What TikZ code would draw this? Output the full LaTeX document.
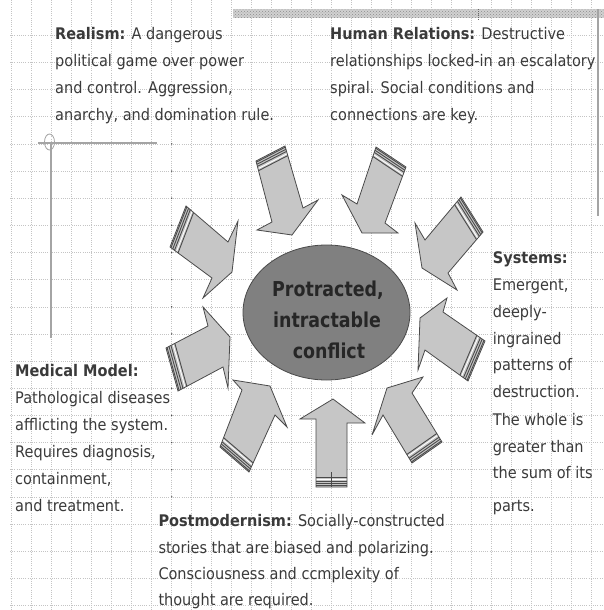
\documentclass[tikz,border=0pt]{standalone}
\usepackage{fontspec}
\setmainfont{DejaVu Sans}
\newfontfamily\bodyfont[FakeStretch=0.906]{DejaVu Sans}
\newfontfamily\corefont[FakeStretch=0.85]{DejaVu Sans}
\usetikzlibrary{calc,shapes.geometric,patterns}

\definecolor{gridgray}{HTML}{C4C4C4}
\definecolor{arrowfill}{HTML}{C6C6C6}
\definecolor{arrowedge}{HTML}{4A4A4A}
\definecolor{corefill}{HTML}{808080}
\definecolor{coreedge}{HTML}{4A4A4A}
\definecolor{inkgray}{HTML}{3A3A3A}
\definecolor{markgray}{HTML}{A4A4A4}

\tikzset{
  gridline/.style={gridgray, line width=0.6pt, dash pattern=on 0.7pt off 1.5pt},
  arrowbody/.style={fill=arrowfill},
  arrowoutline/.style={draw=arrowedge, line width=0.8pt, line join=miter},
  stripedark/.style={arrowedge, line width=0.9pt},
  stripelight/.style={white, line width=0.9pt},
  bodytext/.style={anchor=base west, inner sep=0pt, text=inkgray,
    font=\bodyfont\fontsize{16}{19}\selectfont},
  coretext/.style={anchor=base, inner sep=0pt, text=black!85,
    font=\corefont\bfseries\fontsize{20.5}{24}\selectfont},
  markline/.style={markgray, line width=1.5pt},
}

% Block arrow with a striped tail:
% #1 tail corner, #2 shaft end, #3 barb, #4 tip, #5 barb, #6 shaft end, #7 tail corner
\newcommand\stripedarrow[7]{%
  \path[arrowbody] #1 -- #2 -- #3 -- #4 -- #5 -- #6 -- #7 -- cycle;
  \foreach \off/\sty in {1.2/stripedark, 3.4/stripedark, 5.6/stripedark,
                         8/stripelight, 10/stripedark}
    {\draw[\sty] ($#1!\off pt!#2$) -- ($#7!\off pt!#6$);}
  \draw[arrowoutline] #1 -- #2 -- #3 -- #4 -- #5 -- #6 -- #7 -- cycle;
}

\begin{document}
\begin{tikzpicture}[x=1pt, y=-1pt]
\useasboundingbox (0,0) rectangle (604,610);
\fill[white] (0,0) rectangle (604,610);

% dotted layout grid
\foreach \k in {0,...,29}
  \draw[gridline] ({11.7+20*\k},0) -- ({11.7+20*\k},610);
\foreach \k in {0,...,21}
  \draw[gridline] (10,{35.3+27.15*\k}) -- (604,{35.3+27.15*\k});
\foreach \k in {0,...,21}
  \fill[black!70] (171.7,{35.3+27.15*\k}) circle (0.8);

% page furniture
\fill[black!18] (233,9.5) rectangle (604,18);
\fill[pattern=crosshatch dots, pattern color=black!45] (233,9.5) rectangle (604,18);
\draw[black!60, dash pattern=on 1pt off 1pt, line width=0.8pt] (478,9.5) -- (478,20);
\draw[markgray, line width=1.4pt] (598,9.5) -- (598,216);
\draw[markline] (38,143) -- (157,143);
\draw[markline] (51,143) -- (51,338);
\draw[markgray, line width=0.8pt] (49.5,142) ellipse [x radius=5, y radius=8];

% arrows converging on the core
\stripedarrow{(256,161)}{(272,222)}{(257,230)}{(292,235)}{(318,200)}{(303,208)}{(285,146)}
\stripedarrow{(376,147)}{(357,204)}{(342,195)}{(362,233)}{(398,233)}{(385,223)}{(406,167)}
\stripedarrow{(186,206)}{(228,242)}{(238,221)}{(232,272)}{(203,298)}{(212,278)}{(170,247)}
\stripedarrow{(461,197)}{(425,240)}{(415,223)}{(422,268)}{(457,290)}{(448,273)}{(483,232)}
\stripedarrow{(166,348)}{(208,326)}{(203,307)}{(230,337)}{(228,388)}{(223,367)}{(178,391)}
\stripedarrow{(220,447)}{(242,390)}{(233,380)}{(270,386)}{(287,427)}{(275,415)}{(249,472)}
\stripedarrow{(316,487)}{(316,419)}{(300,419)}{(333,399)}{(365,423)}{(347,423)}{(347,487)}
\stripedarrow{(412,463)}{(383,415)}{(372,435)}{(387,388)}{(423,377)}{(412,393)}{(442,442)}
\stripedarrow{(468,381)}{(425,350)}{(418,370)}{(420,318)}{(447,298)}{(443,312)}{(485,341)}
\draw[arrowedge, line width=0.8pt] (331.5,472) -- (331.5,487);

% core
\node[ellipse, draw=coreedge, fill=corefill, line width=0.8pt,
      minimum width=167pt, minimum height=135pt, inner sep=0pt] (core) at (326.5,312.5) {};
\node[coretext] (core1) at (328,296.7) {Protracted,};
\node[coretext] (core2) at (327,327) {intractable};
\node[coretext] (core3) at (329,358.3) {conflict};

% realism
\node[bodytext] (realism1) at (55,39.3) {\textbf{Realism:} A dangerous};
\node[bodytext] (realism2) at (55,66.5) {political game over power};
\node[bodytext] (realism3) at (55,93.6) {and control. Aggression,};
\node[bodytext] (realism4) at (55,120.8) {anarchy, and domination rule.};

% human relations
\node[bodytext] (human1) at (330,39.3) {\textbf{Human Relations:} Destructive};
\node[bodytext] (human2) at (330,66.5) {relationships locked-in an escalatory};
\node[bodytext] (human3) at (330,93.6) {spiral. Social conditions and};
\node[bodytext] (human4) at (330,120.8) {connections are key.};

% systems
\node[bodytext] (sys1) at (492.7,263.5) {\textbf{Systems:}};
\node[bodytext] (sys2) at (492.7,290.7) {Emergent,};
\node[bodytext] (sys3) at (492.7,317.5) {deeply-};
\node[bodytext] (sys4) at (492.7,344) {ingrained};
\node[bodytext] (sys5) at (492.7,370.8) {patterns of};
\node[bodytext] (sys6) at (492.7,397.5) {destruction.};
\node[bodytext] (sys7) at (492.7,425) {The whole is};
\node[bodytext] (sys8) at (492.7,452) {greater than};
\node[bodytext] (sys9) at (492.7,478.5) {the sum of its};
\node[bodytext] (sys10) at (492.7,511.7) {parts.};

% medical model
\node[bodytext] (med1) at (15,376) {\textbf{Medical Model:}};
\node[bodytext] (med2) at (15,403.3) {Pathological diseases};
\node[bodytext] (med3) at (15,430.5) {afflicting the system.};
\node[bodytext] (med4) at (15,457.5) {Requires diagnosis,};
\node[bodytext] (med5) at (15,484.8) {containment,};
\node[bodytext] (med6) at (15,511.7) {and treatment.};

% postmodernism
\node[bodytext] (post1) at (158.3,526) {\textbf{Postmodernism:} Socially-constructed};
\node[bodytext] (post2) at (158.3,553) {stories that are biased and polarizing.};
\node[bodytext] (post3) at (158.3,579.5) {Consciousness and ccmplexity of};
\node[bodytext] (post4) at (158.3,605.5) {thought are required.};
\end{tikzpicture}
\end{document}
